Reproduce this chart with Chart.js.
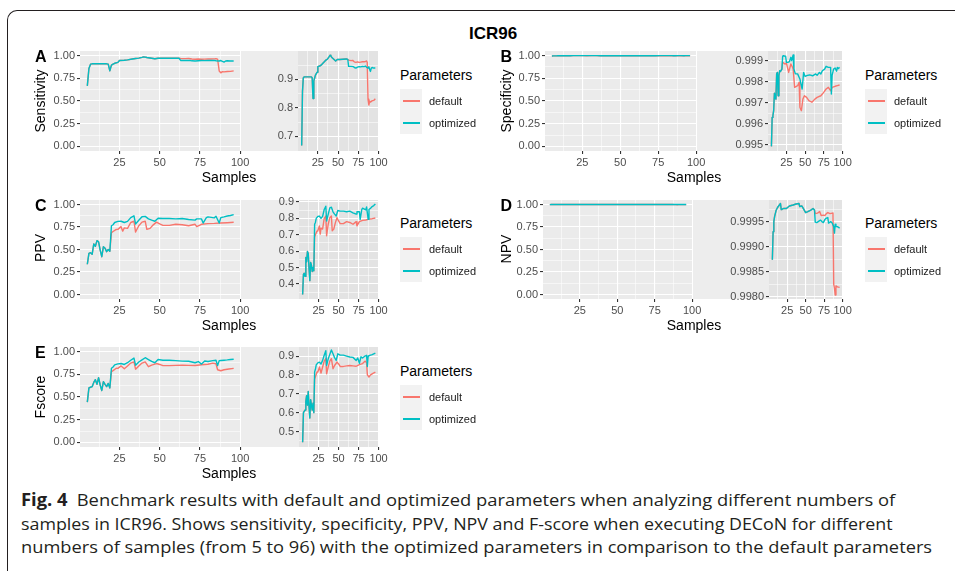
<!DOCTYPE html>
<html>
<head>
<meta charset="utf-8">
<title>ICR96</title>
<script src="https://cdn.jsdelivr.net/npm/chart.js@4.4.0/dist/chart.umd.min.js"></script>
<style>
  html, body { margin: 0; padding: 0; background: #fff; }
  body { width: 955px; height: 571px; position: relative; overflow: hidden; font-family: "Liberation Sans", Arial, sans-serif; }
  .abs { position: absolute; white-space: nowrap; line-height: 1; }
  canvas { position: absolute; }
  .frame { position: absolute; left: 7px; top: 10px; width: 990px; height: 600px; border-left: 1px solid #231f20; border-top: 1px solid #231f20; border-top-left-radius: 10px; }
  .title { font-weight: bold; font-size: 17px; color: #000; }
  .letter { font-weight: bold; font-size: 16px; color: #000; }
  .axtitle { font-size: 14px; color: #000; }
  .legtitle { font-size: 14px; color: #000; }
  .legkey { position: absolute; background: #f2f2f2; }
  .legline { position: absolute; height: 2px; }
  .leglabel { font-size: 11px; color: #1a1a1a; }
  .caption { font-family: "Open Sans", sans-serif; font-size: 17px; color: #231f20; transform-origin: 0 50%; line-height: 1.2; }
  .caption b { font-weight: 700; }
</style>
</head>
<body>
<div class="frame"></div>
<script>
// ////////// values //////////
// A - Sensitivity
const sensOptX = [5,6,7,8,17,18,19,20,21,22,24,25,28,30,33,35,37,39,40,41,42,44,47,49,52,56,60,62,63,66,69,70,72,74,76,78,80,82,84,85,87,88,89,90,91,92,94,96];
const sensOpt  = [0.667,0.858,0.905,0.909,0.909,0.905,0.833,0.895,0.905,0.915,0.925,0.945,0.948,0.953,0.962,0.968,0.972,0.980,0.985,0.983,0.978,0.973,0.965,0.970,0.970,0.971,0.972,0.970,0.946,0.946,0.945,0.942,0.940,0.943,0.945,0.944,0.946,0.945,0.947,0.943,0.940,0.945,0.935,0.928,0.940,0.942,0.940,0.940];
const sensDefX = [5,6,7,8,17,18,19,20,21,22,24,25,28,30,33,35,37,39,40,41,42,44,47,49,52,56,60,62,63,66,68,70,72,74,76,78,80,82,84,85,86,87,88,89,90,92,94,96];
const sensDef  = [0.667,0.858,0.905,0.909,0.909,0.905,0.833,0.895,0.905,0.915,0.925,0.945,0.948,0.953,0.962,0.968,0.972,0.980,0.985,0.983,0.978,0.973,0.965,0.970,0.970,0.971,0.972,0.970,0.968,0.966,0.967,0.962,0.960,0.962,0.960,0.961,0.962,0.962,0.963,0.965,0.960,0.830,0.810,0.823,0.820,0.825,0.826,0.832];

// B - Specificity
const specOptX = [5,6,7,8,9,10,11,12,13,14,15,16,17,19,20,21,22,24,25,27,29,31,32,34,35,37,40,43,46,48,50,53,56,60,64,66,69,71,73,76,78,81,84,85,86,88,90,92,93,94,96];
const specOpt  = [0.99492,0.99630,0.99638,0.99662,0.99745,0.99730,0.99717,0.99837,0.99844,0.99733,0.99829,0.99852,0.99848,0.99860,0.99921,0.99924,0.99922,0.99921,0.99892,0.99892,0.99895,0.99916,0.99900,0.99927,0.99860,0.99837,0.99837,0.99813,0.99765,0.99844,0.99825,0.99830,0.99832,0.99828,0.99837,0.99830,0.99844,0.99837,0.99852,0.99860,0.99873,0.99868,0.99868,0.99741,0.99830,0.99860,0.99865,0.99850,0.99868,0.99862,0.99868];
const specDefX = [5,6,7,8,9,10,11,12,13,14,15,16,17,19,20,21,23,25,28,31,33,34,36,40,42,43,45,47,49,52,55,59,63,66,71,73,75,78,81,84,86,90,93,96];
const specDef  = [0.99492,0.99630,0.99638,0.99662,0.99745,0.99730,0.99717,0.99837,0.99844,0.99733,0.99829,0.99852,0.99848,0.99860,0.99892,0.99890,0.99884,0.99888,0.99844,0.99884,0.99870,0.99860,0.99773,0.99781,0.99797,0.99678,0.99662,0.99717,0.99733,0.99725,0.99710,0.99702,0.99717,0.99725,0.99733,0.99741,0.99750,0.99765,0.99773,0.99757,0.99773,0.99778,0.99781,0.99784];

// C - PPV
const ppvOptX = [5,6,7,8,9,10,11,12,13,14,15,16,17,18,19,20,21,22,24,26,28,30,32,34,35,37,39,41,43,45,47,49,52,56,60,64,68,72,73,76,77,79,80,84,85,87,88,90,92,94,96];
const ppvOpt  = [0.336,0.458,0.465,0.446,0.561,0.535,0.598,0.585,0.494,0.420,0.531,0.515,0.476,0.500,0.480,0.764,0.775,0.800,0.812,0.814,0.800,0.812,0.854,0.874,0.784,0.824,0.864,0.868,0.840,0.826,0.814,0.848,0.844,0.844,0.840,0.844,0.834,0.826,0.840,0.840,0.794,0.854,0.862,0.852,0.870,0.794,0.854,0.862,0.872,0.878,0.888];
const ppvDefX = [5,6,7,8,9,10,11,12,13,14,15,16,17,18,19,20,21,23,24,26,27,28,30,32,34,35,37,39,41,42,44,46,48,50,52,56,60,64,68,72,73,76,80,84,88,92,96];
const ppvDef  = [0.336,0.458,0.465,0.446,0.561,0.535,0.598,0.585,0.494,0.420,0.531,0.515,0.476,0.500,0.480,0.686,0.700,0.723,0.724,0.754,0.704,0.740,0.735,0.800,0.814,0.694,0.764,0.804,0.814,0.724,0.735,0.774,0.804,0.784,0.768,0.768,0.780,0.775,0.764,0.780,0.754,0.780,0.788,0.790,0.795,0.798,0.802];

// D - NPV
const npvOptX = [5,6,7,8,10,12,14,16,17,18,20,24,28,33,37,41,42,45,47,50,53,57,60,62,63,65,67,70,72,74,76,78,80,81,84,86,88,89,90,91,93,96];
const npvOpt  = [0.99874,0.99930,0.99950,0.99960,0.99972,0.99978,0.99982,0.99986,0.99974,0.99975,0.99976,0.99976,0.99981,0.99983,0.99985,0.99986,0.99980,0.99981,0.99976,0.99968,0.99970,0.99973,0.99976,0.99973,0.99949,0.99948,0.99950,0.99953,0.99950,0.99948,0.99954,0.99957,0.99958,0.99947,0.99950,0.99947,0.99940,0.99927,0.99945,0.99940,0.99940,0.99937];
const npvDefX = [5,6,7,8,10,12,14,16,17,18,20,24,28,33,37,41,42,45,47,50,53,57,60,62,63,66,69,71,74,76,78,80,83,86,87,88,89,90,91,93,96];
const npvDef  = [0.99874,0.99930,0.99950,0.99960,0.99972,0.99978,0.99982,0.99986,0.99974,0.99975,0.99976,0.99976,0.99981,0.99983,0.99985,0.99986,0.99980,0.99981,0.99976,0.99968,0.99970,0.99973,0.99976,0.99973,0.99966,0.99967,0.99970,0.99962,0.99963,0.99962,0.99966,0.99968,0.99966,0.99967,0.99966,0.99825,0.99818,0.99804,0.99822,0.99820,0.99819];

// E - Fscore
const fOptX = [5,6,7,8,9,10,11,12,13,14,15,16,17,18,19,20,21,22,24,26,28,30,32,34,35,37,39,41,43,45,47,49,52,56,60,64,68,72,74,76,78,80,83,85,86,87,88,90,92,94,96];
const fOpt  = [0.443,0.600,0.607,0.614,0.660,0.690,0.640,0.712,0.632,0.572,0.669,0.640,0.614,0.650,0.600,0.816,0.830,0.853,0.864,0.868,0.858,0.877,0.904,0.928,0.850,0.885,0.909,0.932,0.912,0.891,0.877,0.912,0.905,0.905,0.900,0.895,0.893,0.877,0.890,0.862,0.896,0.890,0.900,0.904,0.845,0.900,0.902,0.905,0.908,0.912,0.916];
const fDefX = [5,6,7,8,9,10,11,12,13,14,15,16,17,18,19,20,21,23,24,26,28,30,32,34,35,37,39,41,43,45,48,50,52,56,60,64,68,72,76,80,83,85,86,88,90,93,96];
const fDef  = [0.443,0.600,0.607,0.614,0.660,0.690,0.640,0.712,0.632,0.572,0.669,0.640,0.614,0.650,0.600,0.779,0.790,0.816,0.815,0.842,0.810,0.842,0.873,0.886,0.806,0.842,0.873,0.886,0.833,0.850,0.868,0.858,0.845,0.845,0.848,0.850,0.848,0.846,0.855,0.860,0.873,0.866,0.800,0.789,0.800,0.808,0.815];

// ////////// tick values //////////
const xTicks = [25, 50, 75, 100];
const xMinor = [12.5, 37.5, 62.5, 87.5];
const mainYTicks = [0, 0.25, 0.5, 0.75, 1];
const mainYMinor = [0.125, 0.375, 0.625, 0.875];
const sensZoomTicks = [0.7, 0.8, 0.9];
const sensZoomMinor = [0.75, 0.85, 0.95];
const specZoomTicks = [0.995, 0.996, 0.997, 0.998, 0.999];
const specZoomMinor = [0.9955, 0.9965, 0.9975, 0.9985];
const ppvZoomTicks = [0.4, 0.5, 0.6, 0.7, 0.8, 0.9];
const ppvZoomMinor = [0.35, 0.45, 0.55, 0.65, 0.75, 0.85];
const npvZoomTicks = [0.998, 0.9985, 0.999, 0.9995];
const npvZoomMinor = [0.99825, 0.99875, 0.99925, 0.99975];
const fZoomTicks = [0.5, 0.6, 0.7, 0.8, 0.9];
const fZoomMinor = [0.45, 0.55, 0.65, 0.75, 0.85];

const RED = '#F8766D';
const CYAN = '#00BFC4';
const FONT = '"Liberation Sans", Arial, sans-serif';

////// panel background plugin //////
const panelBg = {
    id: 'panelBg',
    beforeDraw(chart, args, opts) {
        const a = chart.chartArea;
        const ctx = chart.ctx;
        ctx.save();
        if (opts.band) {
            ctx.fillStyle = opts.bandColor;
            ctx.fillRect(a.left - opts.band, a.top, opts.band, a.bottom - a.top);
        }
        ctx.fillStyle = opts.color;
        ctx.fillRect(a.left, a.top, a.right - a.left, a.bottom - a.top);
        ctx.restore();
    }
};

function axis(horizontal, lo, hi, majors, minors, digits, size) {
    return {
        type: 'linear',
        min: lo,
        max: hi,
        border: { display: false },
        grid: {
            color: '#ffffff',
            lineWidth: c => (c.tick && c.tick.minor) ? 0.55 : 1.1,
            tickLength: 3,
            tickWidth: 1.1,
            tickColor: c => (c.tick && c.tick.minor) ? 'rgba(0,0,0,0)' : '#333333'
        },
        ticks: {
            autoSkip: false,
            maxRotation: 0,
            minRotation: 0,
            padding: 2,
            color: '#4d4d4d',
            font: { family: FONT, size: 11 },
            callback: (v, i, t) => t[i].text
        },
        afterBuildTicks: s => {
            const t = majors.map(v => ({ value: v, text: v.toFixed(digits) }))
                .concat(minors.map(v => ({ value: v, text: '', minor: true })));
            t.sort((p, q) => p.value - q.value);
            s.ticks = t;
        },
        afterFit: s => {
            if (horizontal) s.height = size; else s.width = size;
        }
    };
}

function lineSet(xs, ys, color, order) {
    return {
        data: xs.map((x, i) => ({ x: x, y: ys[i] })),
        borderColor: color,
        borderWidth: 1.4,
        borderJoinStyle: 'round',
        pointRadius: 0,
        fill: false,
        tension: 0,
        order: order
    };
}

function addChart(box, yW, band, yAxis, series, bg) {
    const P = 12, xH = 22;
    const l = Math.round(box.l), r = Math.round(box.r), t = Math.round(box.t), b = Math.round(box.b);
    const cv = document.createElement('canvas');
    cv.width = P + yW + (r - l) + P;
    cv.height = P + (b - t) + xH + P;
    cv.style.left = (l - yW - P) + 'px';
    cv.style.top = (t - P) + 'px';
    cv.style.width = cv.width + 'px';
    cv.style.height = cv.height + 'px';
    document.body.appendChild(cv);
    new Chart(cv, {
        type: 'line',
        data: { datasets: series },
        options: {
            responsive: false,
            animation: false,
            events: [],
            layout: { padding: P },
            scales: {
                x: axis(true, 0.45, 100.55, xTicks, xMinor, 0, xH),
                y: yAxis(yW)
            },
            plugins: {
                legend: { display: false },
                tooltip: { enabled: false },
                panelBg: { color: bg, band: band, bandColor: '#ededed' }
            }
        },
        plugins: [panelBg]
    });
}

function text(str, cls, x, y, how) {
    const d = document.createElement('div');
    d.className = 'abs ' + cls;
    d.textContent = str;
    d.style.left = x + 'px';
    d.style.top = y + 'px';
    if (how === 'center') d.style.transform = 'translate(-50%,-50%)';
    else if (how === 'rotate') d.style.transform = 'translate(-50%,-50%) rotate(-90deg)';
    else d.style.transform = 'translate(0,-50%)';
    document.body.appendChild(d);
    return d;
}

function legend(x, keyTop) {
    keyTop = Math.round(keyTop);
    text('Parameters', 'legtitle', x, keyTop - 14, 'left');
    const k = document.createElement('div');
    k.className = 'legkey';
    k.style.left = x + 'px'; k.style.top = keyTop + 'px';
    k.style.width = '22px'; k.style.height = '45px';
    document.body.appendChild(k);
    [[RED, 'default', 11], [CYAN, 'optimized', 33]].forEach(e => {
        const ln = document.createElement('div');
        ln.className = 'legline';
        ln.style.background = e[0];
        ln.style.left = (x + 3) + 'px';
        ln.style.top = (keyTop + e[2]) + 'px';
        ln.style.width = '17px';
        document.body.appendChild(ln);
        text(e[1], 'leglabel', x + 29, keyTop + e[2] + 1, 'left');
    });
}

////// one figure panel: full-range plot + zoomed plot + legend //////
function panel(p) {
    const series = [lineSet(p.optX, p.opt, CYAN, 0), lineSet(p.defX, p.def, RED, 1)];
    const series2 = [lineSet(p.optX, p.opt, CYAN, 0), lineSet(p.defX, p.def, RED, 1)];
    addChart(p.main, 45, 0,
        w => axis(false, -0.05, 1.05, mainYTicks, mainYMinor, 2, w),
        series, '#ebebeb');
    const zoom = { l: p.zoom.l, r: p.zoom.r, t: p.main.t, b: p.main.b };
    const yW = Math.round(p.zoom.l) - Math.round(p.main.r);
    addChart(zoom, yW, yW,
        w => axis(false, p.zlo, p.zhi, p.zTicks, p.zMinor, p.zDigits, w),
        series2, '#e3e3e3');
    text(p.letter, 'letter', p.letterX, p.main.t + 6, 'left');
    text(p.ylab, 'axtitle', p.ylabX, p.ylabY, 'rotate');
    text('Samples', 'axtitle', p.xlabX, p.main.b + 26, 'center');
    legend(p.legX, p.main.t + 37.5);
}

text('ICR96', 'title', 493, 33, 'center');

panel({ letter: 'A', letterX: 35, ylab: 'Sensitivity', ylabX: 40, ylabY: 101, xlabX: 229, legX: 400,
    main: { l: 80, r: 241, t: 51, b: 151 }, zoom: { l: 298, r: 378.5 },
    zlo: 0.648, zhi: 1.0, zTicks: sensZoomTicks, zMinor: sensZoomMinor, zDigits: 1,
    optX: sensOptX, opt: sensOpt, defX: sensDefX, def: sensDef });

panel({ letter: 'B', letterX: 500.5, ylab: 'Specificity', ylabX: 505.5, ylabY: 101, xlabX: 694, legX: 865,
    main: { l: 545, r: 697, t: 51, b: 151 }, zoom: { l: 768, r: 843 },
    zlo: 0.99470, zhi: 0.99946, zTicks: specZoomTicks, zMinor: specZoomMinor, zDigits: 3,
    optX: specOptX, opt: specOpt, defX: specDefX, def: specDef });

panel({ letter: 'C', letterX: 35, ylab: 'PPV', ylabX: 40, ylabY: 248, xlabX: 229, legX: 400,
    main: { l: 80, r: 241, t: 199.5, b: 299 }, zoom: { l: 298.5, r: 378.5 },
    zlo: 0.308, zhi: 0.912, zTicks: ppvZoomTicks, zMinor: ppvZoomMinor, zDigits: 1,
    optX: ppvOptX, opt: ppvOpt, defX: ppvDefX, def: ppvDef });

panel({ letter: 'D', letterX: 500.5, ylab: 'NPV', ylabX: 505.5, ylabY: 249, xlabX: 694, legX: 865,
    main: { l: 543, r: 693, t: 199.5, b: 299 }, zoom: { l: 769, r: 843 },
    zlo: 0.99796, zhi: 0.99993, zTicks: npvZoomTicks, zMinor: npvZoomMinor, zDigits: 4,
    optX: npvOptX, opt: npvOpt, defX: npvDefX, def: npvDef });

panel({ letter: 'E', letterX: 35, ylab: 'Fscore', ylabX: 40, ylabY: 397, xlabX: 229, legX: 400,
    main: { l: 80, r: 241, t: 347, b: 447 }, zoom: { l: 298.5, r: 378.5 },
    zlo: 0.418, zhi: 0.948, zTicks: fZoomTicks, zMinor: fZoomMinor, zDigits: 1,
    optX: fOptX, opt: fOpt, defX: fDefX, def: fDef });

////// caption //////
const captionLines = [
    ['Fig. 4', '\u2002Benchmark results with default and optimized parameters when analyzing different numbers of'],
    ['', 'samples in ICR96. Shows sensitivity, specificity, PPV, NPV and F-score when executing DECoN for different'],
    ['', 'numbers of samples (from 5 to 96) with the optimized parameters in comparison to the default parameters']
];
const captionWidths = [874, 872, 911];
const captionY = [500, 523.5, 547];
const capEls = captionLines.map((c, i) => {
    const d = document.createElement('div');
    d.className = 'abs caption';
    d.style.left = '21px';
    d.style.top = captionY[i] + 'px';
    if (c[0]) {
        const b = document.createElement('b');
        b.textContent = c[0];
        d.appendChild(b);
    }
    d.appendChild(document.createTextNode(c[1]));
    document.body.appendChild(d);
    return d;
});
function fitCaption() {
    capEls.forEach((d, i) => {
        d.style.transform = 'translateY(-50%)';
        const w = d.scrollWidth;
        d.style.transform = 'translateY(-50%) scaleX(' + (captionWidths[i] / w) + ')';
    });
}
fitCaption();
if (document.fonts) document.fonts.ready.then(fitCaption);
</script>
</body>
</html>
